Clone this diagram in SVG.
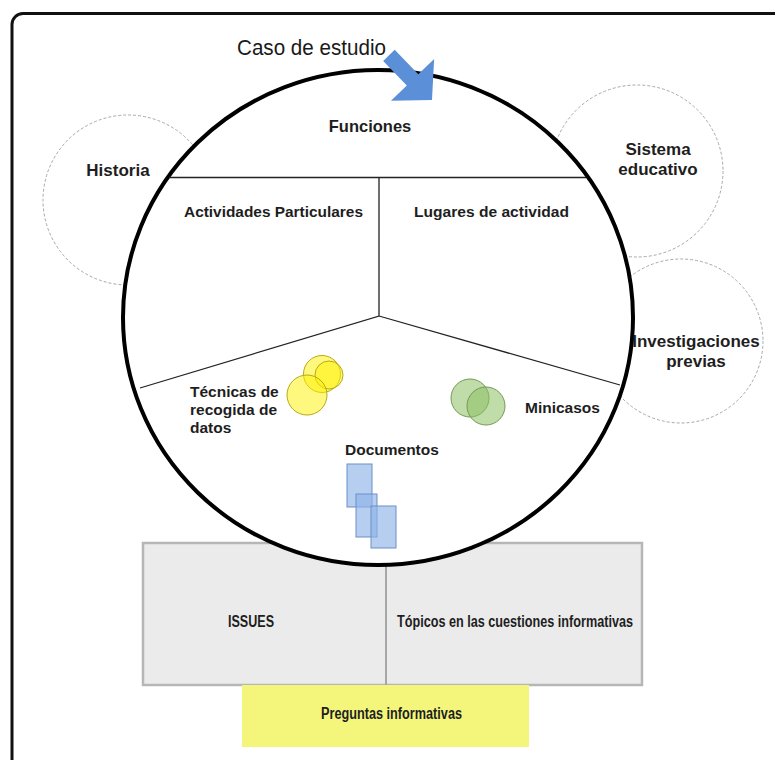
<svg xmlns="http://www.w3.org/2000/svg" width="775" height="760" viewBox="0 0 775 760">
<style>
.lbl{font-family:"Liberation Sans",Arial,sans-serif;font-weight:bold;fill:#1e1e1e}
.side{font-size:17px}
.in{font-size:15.5px}
.nar{font-size:16px}
.dash{fill:none;stroke:#a8a8a8;stroke-width:1;stroke-dasharray:3 2}
.div{stroke:#222;stroke-width:1.3;fill:none}
.yel{fill:#fff200;fill-opacity:0.5;stroke:#b8aa10;stroke-width:1}
.grn{fill:#8cc063;fill-opacity:0.55;stroke:#6f9a55;stroke-width:1}
.doc{fill:#8fb3e8;fill-opacity:0.65;stroke:#6d8fc6;stroke-width:1}
</style>
<rect x="0" y="0" width="775" height="760" fill="#fff"/>
<g id="frame"><rect x="12" y="13.5" width="800" height="800" rx="11" fill="none" stroke="#111" stroke-width="3"/></g>
<g id="historia"><circle cx="128" cy="200" r="85" class="dash"/></g>
<g id="sistema"><circle cx="637" cy="171" r="86" class="dash"/></g>
<g id="investigaciones"><circle cx="681" cy="341" r="82" class="dash"/></g>
<g id="issues-box">
<rect x="143" y="543" width="499" height="142" fill="#ebebeb" stroke="#b6b6b6" stroke-width="2.5"/>
<line x1="386" y1="543" x2="386" y2="685" stroke="#a6a6a6" stroke-width="2"/>
</g>
<g id="preguntas"><rect x="242" y="685" width="287" height="62" fill="#f3f67b"/></g>
<g id="caso">
<ellipse cx="378" cy="317.5" rx="255" ry="247.5" fill="#fff" stroke="#000" stroke-width="4"/>
<path class="div" d="M169 177.5H586M379 177.5V316L140 388M379 316L620 385"/>
</g>
<g id="tecnicas-icons">
<circle cx="322" cy="374" r="18.5" class="yel"/>
<circle cx="329" cy="375" r="14" class="yel"/>
<circle cx="307" cy="395" r="20" class="yel"/>
</g>
<g id="minicasos-icons">
<circle cx="470" cy="398" r="19" class="grn"/>
<circle cx="486" cy="406" r="19" class="grn"/>
</g>
<g id="documentos-icons">
<rect x="347" y="464" width="25" height="43" class="doc"/>
<rect x="356" y="494" width="21" height="43" class="doc"/>
<rect x="371" y="506" width="25" height="42" class="doc"/>
</g>
<g id="connectors">
<polygon transform="translate(432,100) rotate(46)" points="0,0 -28,-30 -28,-8 -62,-8 -62,8 -28,8 -28,30" fill="#5b8fd8"/>
</g>
<g id="texts">
<text x="237" y="55" font-family="'Liberation Sans',Arial,sans-serif" font-size="21.5" fill="#1a1a1a" textLength="149" lengthAdjust="spacingAndGlyphs">Caso de estudio</text>
<text class="lbl" x="370" y="132" font-size="16.5" text-anchor="middle">Funciones</text>
<text class="lbl side" x="118" y="176" text-anchor="middle">Historia</text>
<text class="lbl side" x="658" y="155" text-anchor="middle">Sistema</text>
<text class="lbl side" x="658" y="175" text-anchor="middle">educativo</text>
<text class="lbl side" x="696" y="347" text-anchor="middle">Investigaciones</text>
<text class="lbl side" x="696" y="367" text-anchor="middle">previas</text>
<text class="lbl in" x="184" y="217" textLength="179" lengthAdjust="spacingAndGlyphs">Actividades Particulares</text>
<text class="lbl in" x="414" y="217" textLength="155" lengthAdjust="spacingAndGlyphs">Lugares de actividad</text>
<text class="lbl in" x="190" y="397">Técnicas de</text>
<text class="lbl in" x="190" y="415">recogida de</text>
<text class="lbl in" x="190" y="433">datos</text>
<text class="lbl in" x="525" y="413">Minicasos</text>
<text class="lbl in" x="345" y="455">Documentos</text>
<text class="lbl nar" x="228" y="627" textLength="46" lengthAdjust="spacingAndGlyphs">ISSUES</text>
<text class="lbl nar" x="397" y="627" textLength="236" lengthAdjust="spacingAndGlyphs">Tópicos en las cuestiones informativas</text>
<text class="lbl nar" x="321" y="719" textLength="141" lengthAdjust="spacingAndGlyphs">Preguntas informativas</text>
</g>
</svg>
